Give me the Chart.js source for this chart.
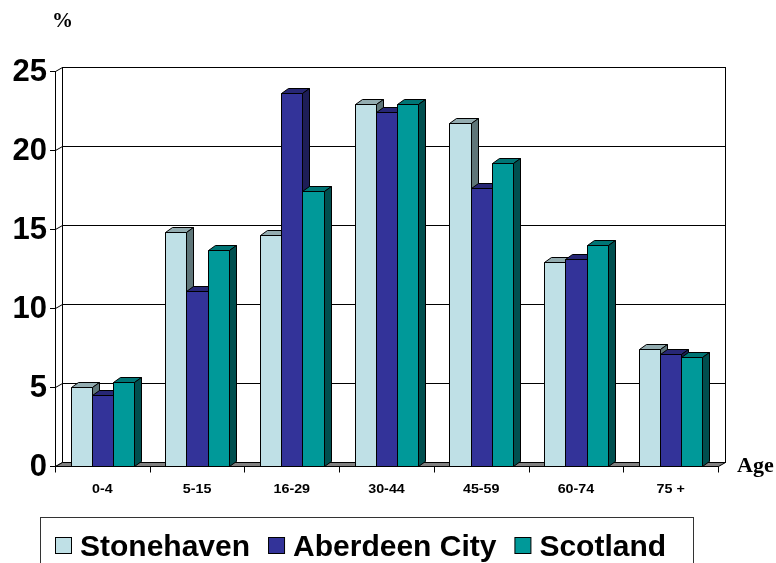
<!DOCTYPE html>
<html>
<head>
<meta charset="utf-8">
<script src="https://cdn.jsdelivr.net/npm/chart.js@4"></script>
<style>
  html, body { margin: 0; padding: 0; background: #fff; }
  canvas { display: block; }
</style>
</head>
<body>
<canvas id="age-chart" width="776" height="563"></canvas>
<script>
// Population by age band, percent
const categories = ['0-4', '5-15', '16-29', '30-44', '45-59', '60-74', '75 +'];
const stonehaven = [5.0, 14.8, 14.6, 22.9, 21.7, 12.9, 7.4];
const aberdeenCity = [4.5, 11.1, 23.6, 22.4, 17.6, 13.1, 7.1];
const scotland = [5.3, 13.7, 17.4, 22.9, 19.2, 14.0, 6.9];
const yTickValues = [0, 5, 10, 15, 20, 25];

// face colours: front, top, side
const faces = [
  { front: '#bfe0e6', top: '#93acb0', side: '#5f7679' },
  { front: '#333399', top: '#272775', side: '#1d1d57' },
  { front: '#009999', top: '#007575', side: '#004f4f' }
];

const WALL_DX = 7, WALL_DY = -4;   // back wall offset
const BAR_DX = 7, BAR_DY = -5;     // bar depth

// draw text squeezed/stretched horizontally
function stretchText(ctx, text, x, y, sx) {
  ctx.save();
  ctx.translate(x, y);
  ctx.scale(sx, 1);
  ctx.fillText(text, 0, 0);
  ctx.restore();
}

function poly(ctx, pts, fill) {
  ctx.beginPath();
  ctx.moveTo(pts[0][0], pts[0][1]);
  for (let i = 1; i < pts.length; i++) ctx.lineTo(pts[i][0], pts[i][1]);
  ctx.closePath();
  ctx.fillStyle = fill;
  ctx.fill();
  ctx.stroke();
}

const box3d = {
  id: 'box3d',
  beforeDatasetsDraw(chart) {
    const ctx = chart.ctx;
    const { left, right, top, bottom } = chart.chartArea;
    const y = chart.scales.y;
    ctx.save();
    ctx.lineWidth = 1;
    ctx.strokeStyle = '#000';

    // back wall
    ctx.fillStyle = '#fff';
    ctx.fillRect(left + WALL_DX, top + WALL_DY, right - left, bottom - top);
    ctx.strokeRect(left + WALL_DX + 0.5, top + WALL_DY + 0.5, right - left, bottom - top);

    // gridlines on back and side walls
    yTickValues.forEach(v => {
      const py = Math.round(y.getPixelForValue(v)) + 0.5;
      ctx.beginPath();
      ctx.moveTo(left + WALL_DX, py + WALL_DY);
      ctx.lineTo(right + WALL_DX, py + WALL_DY);
      ctx.moveTo(left + 0.5, py);
      ctx.lineTo(left + WALL_DX + 0.5, py + WALL_DY);
      ctx.stroke();
    });

    // left wall edges
    ctx.beginPath();
    ctx.moveTo(left + 0.5, top);
    ctx.lineTo(left + 0.5, bottom);
    ctx.moveTo(left + WALL_DX + 0.5, top + WALL_DY);
    ctx.lineTo(left + WALL_DX + 0.5, bottom + WALL_DY);
    ctx.stroke();

    // floor
    const b = Math.round(bottom) + 0.5;
    poly(ctx, [[left + 0.5, b], [right + 0.5, b], [right + WALL_DX + 0.5, b + WALL_DY], [left + WALL_DX + 0.5, b + WALL_DY]], '#808080');

    // bars, painted category by category, left to right
    const metas = chart.data.datasets.map((_, i) => chart.getDatasetMeta(i));
    for (let c = 0; c < categories.length; c++) {
      metas.forEach((meta, d) => {
        const el = meta.data[c];
        const p = el.getProps(['x', 'y', 'base', 'width'], true);
        const x0 = Math.round(p.x - p.width / 2) + 0.5;
        const x1 = Math.round(p.x + p.width / 2) + 0.5;
        const yt = Math.round(p.y) + 0.5;
        const yb = Math.round(p.base) + 0.5;
        const f = faces[d];
        poly(ctx, [[x0, yt], [x1, yt], [x1, yb], [x0, yb]], f.front);
        poly(ctx, [[x0, yt], [x1, yt], [x1 + BAR_DX, yt + BAR_DY], [x0 + BAR_DX, yt + BAR_DY]], f.top);
        poly(ctx, [[x1, yt], [x1 + BAR_DX, yt + BAR_DY], [x1 + BAR_DX, yb + BAR_DY], [x1, yb]], f.side);
      });
    }
    ctx.restore();
    return false;
  },
  afterDraw(chart) {
    const ctx = chart.ctx;
    const { left, right, bottom } = chart.chartArea;
    const x = chart.scales.x;
    const y = chart.scales.y;
    ctx.save();
    ctx.strokeStyle = '#000';
    ctx.fillStyle = '#000';
    ctx.lineWidth = 1;

    // front axis line and ticks
    const b = Math.round(bottom) + 0.5;
    ctx.beginPath();
    ctx.moveTo(left + 0.5, b);
    ctx.lineTo(right + 0.5, b);
    const band = (right - left) / categories.length;
    for (let i = 0; i <= categories.length; i++) {
      const tx = Math.round(left + i * band) + 0.5;
      ctx.moveTo(tx, b);
      ctx.lineTo(tx, b + 6);
    }
    yTickValues.forEach(v => {
      const py = Math.round(y.getPixelForValue(v)) + 0.5;
      ctx.moveTo(left - 5, py);
      ctx.lineTo(left + 0.5, py);
    });
    ctx.stroke();

    // y tick labels
    ctx.font = 'bold 31px "Liberation Sans", Arial, sans-serif';
    ctx.textBaseline = 'middle';
    ctx.textAlign = 'right';
    yTickValues.forEach(v => {
      ctx.fillText(String(v), left - 8, y.getPixelForValue(v) + 1);
    });

    // category labels
    ctx.font = 'bold 13px "Liberation Sans", Arial, sans-serif';
    ctx.textAlign = 'center';
    categories.forEach((lab, i) => {
      stretchText(ctx, lab, x.getPixelForValue(i), b + 23, 1.1);
    });

    // axis titles
    ctx.font = 'bold 20px "Liberation Serif", "Times New Roman", serif';
    ctx.textAlign = 'left';
    stretchText(ctx, '%', 52, 22, 1.05);
    stretchText(ctx, 'Age', 737, b, 1.1);

    // legend
    const lx = 40.5, ly = 517.5;
    ctx.strokeStyle = '#333';
    ctx.strokeRect(lx, ly, 653, 60);
    ctx.strokeStyle = '#000';
    ctx.font = 'bold 30px "Liberation Sans", Arial, sans-serif';
    ctx.textBaseline = 'alphabetic';
    let cx = 55;
    chart.data.datasets.forEach((ds, i) => {
      ctx.fillStyle = faces[i].front;
      ctx.fillRect(cx + 0.5, 537.5, 16, 16);
      ctx.strokeRect(cx + 0.5, 537.5, 16, 16);
      ctx.fillStyle = '#000';
      ctx.fillText(ds.label, cx + 25, 556);
      cx += 25 + ctx.measureText(ds.label).width + 18;
    });
    ctx.restore();
  }
};

new Chart(document.getElementById('age-chart'), {
  type: 'bar',
  data: {
    labels: categories,
    datasets: [
      { label: 'Stonehaven', data: stonehaven, backgroundColor: faces[0].front },
      { label: 'Aberdeen City', data: aberdeenCity, backgroundColor: faces[1].front },
      { label: 'Scotland', data: scotland, backgroundColor: faces[2].front }
    ]
  },
  options: {
    responsive: false,
    animation: false,
    devicePixelRatio: 1,
    layout: { padding: { left: 55, right: 58, top: 71, bottom: 97 } },
    datasets: { bar: { categoryPercentage: 0.67, barPercentage: 1.0 } },
    plugins: {
      legend: { display: false },
      tooltip: { enabled: false }
    },
    scales: {
      x: { display: false },
      y: { display: false, min: 0, max: 25 }
    }
  },
  plugins: [box3d]
});
</script>
</body>
</html>
